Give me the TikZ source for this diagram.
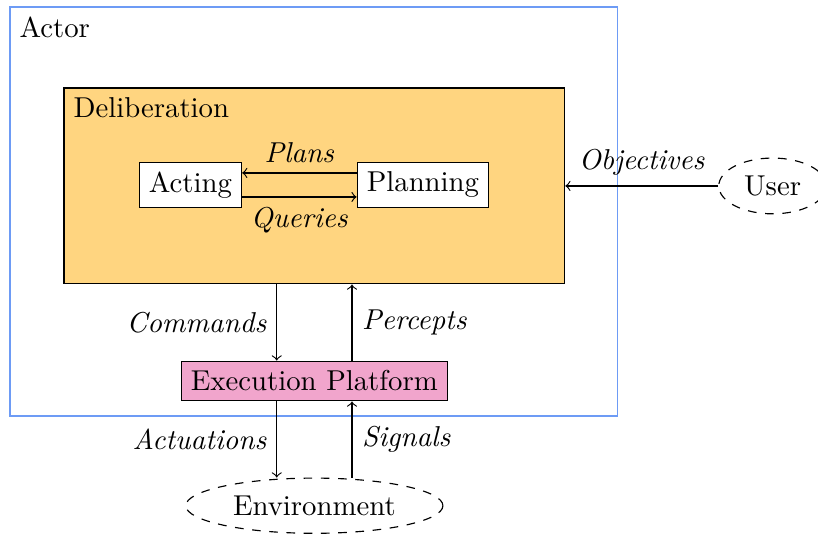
\documentclass[tikz,border=0pt]{standalone}
\usepackage[dvipsnames]{xcolor}
\usepackage{tikz}
\usetikzlibrary{positioning, calc, shapes}
\definecolor{actorblue}{HTML}{6D9BF5}
\definecolor{delibfill}{HTML}{FFD580}
\definecolor{execpink}{HTML}{F1A5CC}
\tikzset{module/.style={draw, rectangle, fill=white}}
\tikzset{outside/.style={draw, dashed, ellipse}}
\tikzset{flow/.style={->}}

\begin{document}
\begin{tikzpicture}
  \useasboundingbox (0,0) rectangle (10,-6.526);

  \node[draw=actorblue, minimum width=7.43cm, minimum height=5cm] (actor) at (3.837,-2.585)
    [label={[anchor=north west]north west:Actor}] {};

  \node[module, fill=delibfill, minimum width=6.12cm, minimum height=2.395cm] (delib) at (3.843,-2.273)
    [label={[anchor=north west]north west:Deliberation}] {};

  \node[module] (acting) at (2.328,-2.261) {Acting};
  \node[module] (planning) [right=1.4cm of acting] {Planning};

  \draw[flow] ([yshift=.147cm]planning.west) -- node[above] {\textit{Plans}} ([yshift=.147cm]acting.east);
  \draw[flow] ([yshift=-.147cm]acting.east) -- node[below] {\textit{Queries}} ([yshift=-.147cm]planning.west);

  \node[outside] (user) [right=1.87cm of delib] {User};
  \draw[flow] (user) -- node[above] {\textit{Objectives}} (delib);

  \node[module, fill=execpink] (exec) [below=0.93cm of delib] {Execution Platform};
  \node[outside] (env) [below=0.93cm of exec] {Environment};

  \draw[flow] ([xshift=-.46cm]delib.south) -- node[left] {\textit{Commands}} ([xshift=-.46cm]exec.north);
  \draw[flow] ([xshift=.46cm]exec.north) -- node[right] {\textit{Percepts}} ([xshift=.46cm]delib.south);

  \draw[flow] ([xshift=-.46cm]exec.south) -- node[left] {\textit{Actuations}} ([xshift=-.46cm]exec.south |- env.north);
  \draw[flow] ([xshift=.46cm]exec.south |- env.north) -- node[right] {\textit{Signals}} ([xshift=.46cm]exec.south);

\end{tikzpicture}
\end{document}
